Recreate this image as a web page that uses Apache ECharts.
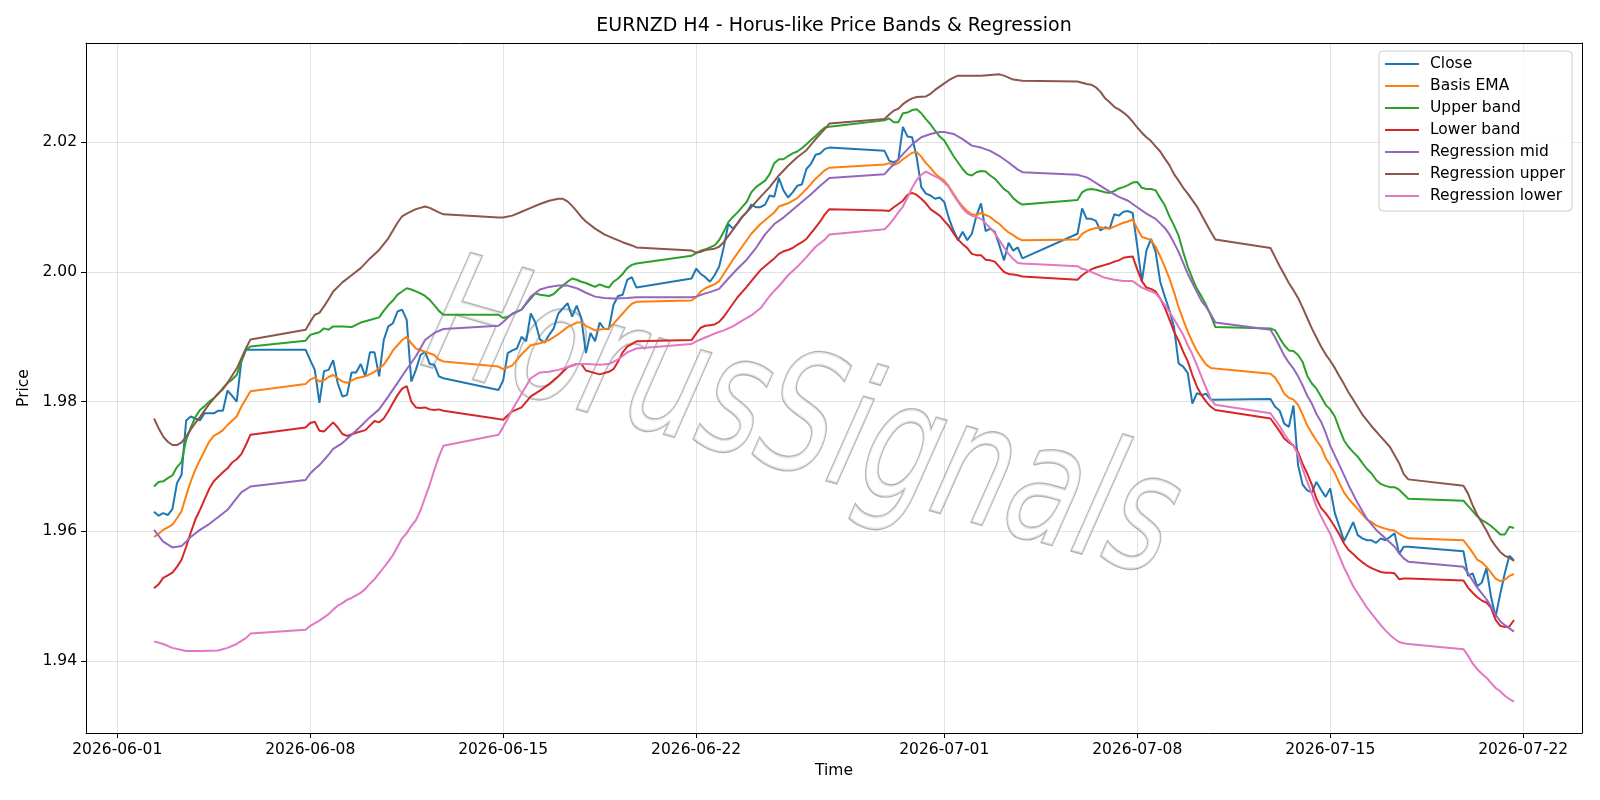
<!DOCTYPE html>
<html lang="en">
<head>
<meta charset="UTF-8">
<title>EURNZD H4</title>
<script src="https://cdn.jsdelivr.net/npm/echarts@6/dist/echarts.min.js"></script>
</head>
<body style="margin:0;background:#fff">
<div id="container" style="width:1600px;height:800px"></div>
<script type="text/javascript">
// times are 'MM-DD HH' in 2026 (UTC)
var YEAR = 2026;
var tickDates = ['2026-06-01', '2026-06-08', '2026-06-15', '2026-06-22', '2026-07-01', '2026-07-08', '2026-07-15', '2026-07-22'];
var priceTicks = [1.94, 1.96, 1.98, 2.00, 2.02];

var closeData = [
  ['06-02 08',1.9630],['06-02 12',1.9624],['06-02 16',1.9628],['06-02 20',1.9625],['06-03 00',1.9634],['06-03 04',1.9674],['06-03 08',1.9687],['06-03 12',1.9771],['06-03 16',1.9777],['06-03 20',1.9774],['06-04 00',1.9771],['06-04 04',1.9782],['06-04 08',1.9782],['06-04 12',1.9782],['06-04 16',1.9786],['06-04 20',1.9786],['06-05 00',1.9817],['06-05 04',1.9809],['06-05 08',1.9800],['06-05 12',1.9862],['06-05 16',1.9880],['06-05 20',1.9880],
  ['06-07 20',1.9880],['06-08 00',1.9864],['06-08 04',1.9849],['06-08 08',1.9798],['06-08 12',1.9847],['06-08 16',1.9849],['06-08 20',1.9864],['06-09 00',1.9828],['06-09 04',1.9808],['06-09 08',1.9810],['06-09 12',1.9845],['06-09 16',1.9845],['06-09 20',1.9858],['06-10 00',1.9839],['06-10 04',1.9876],['06-10 08',1.9876],['06-10 12',1.9839],['06-10 16',1.9895],['06-10 20',1.9916],['06-11 00',1.9921],['06-11 04',1.9939],['06-11 08',1.9942],['06-11 12',1.9926],['06-11 16',1.9831],['06-11 20',1.9849],['06-12 00',1.9872],['06-12 04',1.9877],['06-12 08',1.9858],['06-12 12',1.9857],['06-12 16',1.9839],['06-12 20',1.9836],
  ['06-14 20',1.9818],['06-15 00',1.9833],['06-15 04',1.9875],['06-15 08',1.9879],['06-15 12',1.9882],['06-15 16',1.9900],['06-15 20',1.9893],['06-16 00',1.9936],['06-16 04',1.9922],['06-16 08',1.9896],['06-16 12',1.9891],['06-16 16',1.9903],['06-16 20',1.9913],['06-17 00',1.9936],['06-17 04',1.9944],['06-17 08',1.9952],['06-17 12',1.9931],['06-17 16',1.9948],['06-17 20',1.9929],['06-18 00',1.9875],['06-18 04',1.9906],['06-18 08',1.9893],['06-18 12',1.9922],['06-18 16',1.9912],['06-18 20',1.9912],['06-19 00',1.9949],['06-19 04',1.9963],['06-19 08',1.9965],['06-19 12',1.9988],['06-19 16',1.9992],['06-19 20',1.9976],
  ['06-21 20',1.9990],['06-22 00',2.0005],['06-22 04',1.9997],['06-22 08',1.9992],['06-22 12',1.9985],['06-22 16',1.9995],['06-22 20',2.0008],['06-23 00',2.0038],['06-23 04',2.0074],['06-23 08',2.0067],['06-23 12',2.0075],['06-23 16',2.0085],['06-23 20',2.0092],['06-24 00',2.0104],['06-24 04',2.0100],['06-24 08',2.0100],['06-24 12',2.0104],['06-24 16',2.0118],['06-24 20',2.0116],['06-25 00',2.0145],['06-25 04',2.0126],['06-25 08',2.0115],['06-25 12',2.0123],['06-25 16',2.0133],['06-25 20',2.0135],['06-26 00',2.0159],['06-26 04',2.0167],['06-26 08',2.0181],['06-26 12',2.0183],['06-26 16',2.0190],['06-26 20',2.0192],
  ['06-28 20',2.0187],['06-29 00',2.0172],['06-29 04',2.0169],['06-29 08',2.0173],['06-29 12',2.0224],['06-29 16',2.0209],['06-29 20',2.0208],['06-30 00',2.0177],['06-30 04',2.0131],['06-30 08',2.0121],['06-30 12',2.0118],['06-30 16',2.0113],['06-30 20',2.0115],['07-01 00',2.0108],['07-01 04',2.0083],['07-01 08',2.0064],['07-01 12',2.0049],['07-01 16',2.0062],['07-01 20',2.0049],['07-02 00',2.0059],['07-02 04',2.0087],['07-02 08',2.0106],['07-02 12',2.0063],['07-02 16',2.0067],['07-02 20',2.0062],['07-03 00',2.0041],['07-03 04',2.0018],['07-03 08',2.0045],['07-03 12',2.0033],['07-03 16',2.0038],['07-03 20',2.0021],
  ['07-05 20',2.0059],['07-06 00',2.0098],['07-06 04',2.0082],['07-06 08',2.0082],['07-06 12',2.0079],['07-06 16',2.0064],['07-06 20',2.0069],['07-07 00',2.0067],['07-07 04',2.0089],['07-07 08',2.0087],['07-07 12',2.0093],['07-07 16',2.0094],['07-07 20',2.0091],['07-08 00',2.0040],['07-08 04',1.9985],['07-08 08',2.0033],['07-08 12',2.0051],['07-08 16',2.0031],['07-08 20',1.9985],['07-09 00',1.9962],['07-09 04',1.9941],['07-09 08',1.9915],['07-09 12',1.9859],['07-09 16',1.9854],['07-09 20',1.9844],['07-10 00',1.9797],['07-10 04',1.9813],['07-10 08',1.9810],['07-10 12',1.9812],['07-10 16',1.9803],['07-10 20',1.9803],
  ['07-12 20',1.9804],['07-13 00',1.9792],['07-13 04',1.9786],['07-13 08',1.9766],['07-13 12',1.9761],['07-13 16',1.9794],['07-13 20',1.9702],['07-14 00',1.9672],['07-14 04',1.9663],['07-14 08',1.9660],['07-14 12',1.9676],['07-14 16',1.9664],['07-14 20',1.9653],['07-15 00',1.9666],['07-15 04',1.9628],['07-15 08',1.9607],['07-15 12',1.9585],['07-15 16',1.9599],['07-15 20',1.9614],['07-16 00',1.9594],['07-16 04',1.9589],['07-16 08',1.9586],['07-16 12',1.9586],['07-16 16',1.9582],['07-16 20',1.9589],['07-17 00',1.9586],['07-17 04',1.9591],['07-17 08',1.9597],['07-17 12',1.9565],['07-17 16',1.9576],['07-17 20',1.9576],
  ['07-19 20',1.9569],['07-20 00',1.9531],['07-20 04',1.9535],['07-20 08',1.9515],['07-20 12',1.9521],['07-20 16',1.9543],['07-20 20',1.9499],['07-21 00',1.9468],['07-21 04',1.9503],['07-21 08',1.9535],['07-21 12',1.9562],['07-21 16',1.9555]
];

var emaData = [
  ['06-02 08',1.9591],['06-02 12',1.9596],['06-02 16',1.9602],['06-02 20',1.9606],['06-03 00',1.9610],['06-03 04',1.9620],['06-03 08',1.9631],['06-03 12',1.9655],['06-03 16',1.9677],['06-03 20',1.9695],['06-04 00',1.9710],['06-04 04',1.9724],['06-04 08',1.9738],['06-04 12',1.9747],['06-04 16',1.9751],['06-04 20',1.9756],['06-05 00',1.9764],['06-05 08',1.9777],['06-05 12',1.9792],['06-05 20',1.9816],
  ['06-07 20',1.9827],['06-08 00',1.9834],['06-08 04',1.9837],['06-08 08',1.9831],['06-08 12',1.9833],['06-08 16',1.9838],['06-08 20',1.9841],['06-09 04',1.9831],['06-09 08',1.9829],['06-09 16',1.9836],['06-10 00',1.9839],['06-10 08',1.9846],['06-10 16',1.9857],['06-10 20',1.9867],['06-11 00',1.9879],['06-11 04',1.9887],['06-11 08',1.9895],['06-11 12',1.9900],['06-11 16',1.9890],['06-11 20',1.9882],['06-12 04',1.9877],['06-12 12',1.9872],['06-12 16',1.9865],['06-12 20',1.9862],
  ['06-14 20',1.9854],['06-15 00',1.9850],['06-15 08',1.9856],['06-15 16',1.9873],['06-16 00',1.9887],['06-16 08',1.9890],['06-16 16',1.9895],['06-17 00',1.9904],['06-17 08',1.9915],['06-17 16',1.9922],['06-17 20',1.9922],['06-18 00',1.9917],['06-18 08',1.9910],['06-18 16',1.9912],['06-18 20',1.9913],['06-19 00',1.9920],['06-19 08',1.9936],['06-19 12',1.9944],['06-19 16',1.9951],['06-19 20',1.9954],
  ['06-21 20',1.9956],['06-22 00',1.9961],['06-22 04',1.9970],['06-22 08',1.9975],['06-22 12',1.9978],['06-22 16',1.9981],['06-22 20',1.9986],['06-23 00',1.9997],['06-23 08',2.0019],['06-23 16',2.0039],['06-24 00',2.0059],['06-24 08',2.0074],['06-24 16',2.0086],['06-24 20',2.0092],['06-25 00',2.0101],['06-25 08',2.0106],['06-25 16',2.0114],['06-26 00',2.0128],['06-26 08',2.0144],['06-26 16',2.0157],['06-26 20',2.0161],
  ['06-28 20',2.0166],['06-29 00',2.0168],['06-29 04',2.0165],['06-29 08',2.0168],['06-29 12',2.0174],['06-29 16',2.0179],['06-29 20',2.0184],['06-30 00',2.0185],['06-30 04',2.0178],['06-30 08',2.0168],['06-30 12',2.0161],['06-30 16',2.0152],['06-30 20',2.0146],['07-01 00',2.0141],['07-01 04',2.0132],['07-01 08',2.0121],['07-01 12',2.0110],['07-01 16',2.0101],['07-01 20',2.0094],['07-02 00',2.0089],['07-02 04',2.0088],['07-02 08',2.0091],['07-02 12',2.0088],['07-02 16',2.0085],['07-02 20',2.0079],['07-03 00',2.0074],['07-03 04',2.0067],['07-03 08',2.0061],['07-03 12',2.0057],['07-03 16',2.0052],['07-03 20',2.0049],
  ['07-05 20',2.0050],['07-06 00',2.0059],['07-06 04',2.0063],['07-06 08',2.0066],['07-06 12',2.0068],['07-06 16',2.0069],['07-06 20',2.0067],['07-07 00',2.0067],['07-07 04',2.0070],['07-07 08',2.0073],['07-07 12',2.0076],['07-07 16',2.0078],['07-07 20',2.0081],['07-08 00',2.0067],['07-08 04',2.0054],['07-08 08',2.0052],['07-08 12',2.0049],['07-08 16',2.0039],['07-08 20',2.0024],['07-09 00',2.0008],['07-09 04',1.9990],['07-09 08',1.9969],['07-09 12',1.9946],['07-09 16',1.9926],['07-09 20',1.9908],['07-10 00',1.9892],['07-10 04',1.9878],['07-10 08',1.9867],['07-10 12',1.9857],['07-10 16',1.9852],['07-10 20',1.9851],
  ['07-12 20',1.9843],['07-13 00',1.9837],['07-13 04',1.9826],['07-13 08',1.9812],['07-13 12',1.9806],['07-13 16',1.9803],['07-13 20',1.9795],['07-14 00',1.9780],['07-14 04',1.9763],['07-14 08',1.9751],['07-14 12',1.9740],['07-14 16',1.9730],['07-14 20',1.9713],['07-15 00',1.9702],['07-15 04',1.9690],['07-15 08',1.9674],['07-15 12',1.9660],['07-15 16',1.9650],['07-15 20',1.9642],['07-16 00',1.9634],['07-16 04',1.9626],['07-16 08',1.9618],['07-16 12',1.9614],['07-16 16',1.9609],['07-16 20',1.9606],['07-17 00',1.9604],['07-17 04',1.9602],['07-17 08',1.9601],['07-17 12',1.9596],['07-17 16',1.9592],['07-17 20',1.9589],
  ['07-19 20',1.9586],['07-20 00',1.9577],['07-20 04',1.9567],['07-20 08',1.9556],['07-20 12',1.9552],['07-20 16',1.9545],['07-20 20',1.9536],['07-21 00',1.9527],['07-21 04',1.9523],['07-21 08',1.9525],['07-21 12',1.9531],['07-21 16',1.9534]
];

var upperData = [
  ['06-02 08',1.9669],['06-02 12',1.9676],['06-02 16',1.9677],['06-02 20',1.9682],['06-03 00',1.9686],['06-03 04',1.9699],['06-03 08',1.9707],['06-03 12',1.9741],['06-03 16',1.9760],['06-03 20',1.9776],['06-04 00',1.9787],['06-04 04',1.9793],['06-04 08',1.9800],['06-04 12',1.9805],['06-04 16',1.9812],['06-04 20',1.9821],['06-05 00',1.9829],['06-05 04',1.9834],['06-05 08',1.9841],['06-05 12',1.9862],['06-05 16',1.9880],['06-05 20',1.9885],
  ['06-07 20',1.9894],['06-08 00',1.9903],['06-08 04',1.9905],['06-08 08',1.9907],['06-08 12',1.9913],['06-08 16',1.9911],['06-08 20',1.9916],['06-09 04',1.9916],['06-09 12',1.9915],['06-09 20',1.9922],['06-10 04',1.9926],['06-10 12',1.9930],['06-10 16',1.9940],['06-10 20',1.9949],['06-11 00',1.9956],['06-11 04',1.9965],['06-11 08',1.9970],['06-11 12',1.9975],['06-11 16',1.9973],['06-11 20',1.9970],['06-12 00',1.9967],['06-12 04',1.9963],['06-12 08',1.9957],['06-12 12',1.9949],['06-12 16',1.9940],['06-12 20',1.9934],
  ['06-14 20',1.9934],['06-15 00',1.9929],['06-15 04',1.9931],['06-15 08',1.9935],['06-15 16',1.9942],['06-15 20',1.9951],['06-16 00',1.9959],['06-16 04',1.9967],['06-16 08',1.9965],['06-16 16',1.9963],['06-16 20',1.9966],['06-17 00',1.9973],['06-17 04',1.9979],['06-17 08',1.9985],['06-17 12',1.9990],['06-17 16',1.9988],['06-17 20',1.9985],['06-18 00',1.9983],['06-18 04',1.9980],['06-18 08',1.9977],['06-18 12',1.9981],['06-18 16',1.9978],['06-18 20',1.9976],['06-19 00',1.9985],['06-19 04',1.9990],['06-19 08',1.9997],['06-19 12',2.0006],['06-19 16',2.0011],['06-19 20',2.0013],
  ['06-21 20',2.0025],['06-22 00',2.0029],['06-22 04',2.0033],['06-22 08',2.0035],['06-22 12',2.0038],['06-22 16',2.0041],['06-22 20',2.0049],['06-23 00',2.0062],['06-23 04',2.0077],['06-23 08',2.0085],['06-23 12',2.0092],['06-23 16',2.0100],['06-23 20',2.0108],['06-24 00',2.0123],['06-24 04',2.0131],['06-24 08',2.0136],['06-24 12',2.0141],['06-24 16',2.0151],['06-24 20',2.0168],['06-25 00',2.0174],['06-25 04',2.0174],['06-25 08',2.0179],['06-25 12',2.0183],['06-25 16',2.0186],['06-25 20',2.0191],['06-26 00',2.0197],['06-26 04',2.0204],['06-26 08',2.0210],['06-26 12',2.0217],['06-26 16',2.0223],['06-26 20',2.0224],
  ['06-28 20',2.0234],['06-29 00',2.0237],['06-29 04',2.0231],['06-29 08',2.0231],['06-29 12',2.0245],['06-29 16',2.0246],['06-29 20',2.0250],['06-30 00',2.0251],['06-30 04',2.0245],['06-30 08',2.0236],['06-30 12',2.0228],['06-30 16',2.0218],['06-30 20',2.0209],['07-01 00',2.0203],['07-01 04',2.0191],['07-01 08',2.0179],['07-01 12',2.0169],['07-01 16',2.0159],['07-01 20',2.0151],['07-02 00',2.0149],['07-02 04',2.0154],['07-02 08',2.0156],['07-02 12',2.0155],['07-02 16',2.0149],['07-02 20',2.0144],['07-03 00',2.0136],['07-03 04',2.0128],['07-03 08',2.0123],['07-03 12',2.0114],['07-03 16',2.0108],['07-03 20',2.0104],
  ['07-05 20',2.0111],['07-06 00',2.0123],['07-06 04',2.0127],['07-06 08',2.0128],['07-06 12',2.0127],['07-06 16',2.0125],['07-06 20',2.0123],['07-07 00',2.0122],['07-07 04',2.0125],['07-07 08',2.0129],['07-07 12',2.0131],['07-07 16',2.0134],['07-07 20',2.0138],['07-08 00',2.0139],['07-08 04',2.0130],['07-08 08',2.0128],['07-08 12',2.0128],['07-08 16',2.0126],['07-08 20',2.0114],['07-09 00',2.0103],['07-09 04',2.0086],['07-09 08',2.0072],['07-09 12',2.0056],['07-09 16',2.0031],['07-09 20',2.0008],['07-10 00',1.9990],['07-10 04',1.9974],['07-10 08',1.9962],['07-10 12',1.9949],['07-10 16',1.9933],['07-10 20',1.9915],
  ['07-12 20',1.9913],['07-13 00',1.9910],['07-13 04',1.9898],['07-13 08',1.9887],['07-13 12',1.9879],['07-13 16',1.9878],['07-13 20',1.9872],['07-14 00',1.9861],['07-14 04',1.9840],['07-14 08',1.9828],['07-14 12',1.9820],['07-14 16',1.9808],['07-14 20',1.9795],['07-15 00',1.9788],['07-15 04',1.9777],['07-15 08',1.9758],['07-15 12',1.9740],['07-15 16',1.9730],['07-15 20',1.9722],['07-16 00',1.9715],['07-16 04',1.9705],['07-16 08',1.9696],['07-16 12',1.9689],['07-16 16',1.9679],['07-16 20',1.9673],['07-17 00',1.9670],['07-17 04',1.9668],['07-17 08',1.9668],['07-17 12',1.9664],['07-17 16',1.9657],['07-17 20',1.9650],
  ['07-19 20',1.9647],['07-20 00',1.9639],['07-20 04',1.9631],['07-20 08',1.9623],['07-20 12',1.9617],['07-20 16',1.9613],['07-20 20',1.9608],['07-21 00',1.9602],['07-21 04',1.9595],['07-21 08',1.9595],['07-21 12',1.9607],['07-21 16',1.9605]
];

var lowerData = [
  ['06-02 08',1.9512],['06-02 12',1.9518],['06-02 16',1.9528],['06-02 20',1.9532],['06-03 00',1.9536],['06-03 04',1.9545],['06-03 08',1.9556],['06-03 12',1.9576],['06-03 16',1.9598],['06-03 20',1.9618],['06-04 00',1.9633],['06-04 04',1.9649],['06-04 08',1.9665],['06-04 12',1.9677],['06-04 16',1.9684],['06-04 20',1.9691],['06-05 00',1.9697],['06-05 04',1.9706],['06-05 08',1.9711],['06-05 12',1.9719],['06-05 16',1.9733],['06-05 20',1.9749],
  ['06-07 20',1.9760],['06-08 00',1.9767],['06-08 04',1.9769],['06-08 08',1.9755],['06-08 12',1.9754],['06-08 16',1.9761],['06-08 20',1.9768],['06-09 00',1.9760],['06-09 04',1.9750],['06-09 08',1.9747],['06-09 16',1.9752],['06-10 00',1.9756],['06-10 08',1.9770],['06-10 12',1.9768],['06-10 16',1.9774],['06-10 20',1.9785],['06-11 00',1.9798],['06-11 04',1.9810],['06-11 08',1.9820],['06-11 12',1.9824],['06-11 16',1.9800],['06-11 20',1.9791],['06-12 00',1.9790],['06-12 04',1.9791],['06-12 08',1.9788],['06-12 12',1.9787],['06-12 16',1.9788],['06-12 20',1.9786],
  ['06-14 20',1.9773],['06-15 00',1.9772],['06-15 04',1.9779],['06-15 08',1.9785],['06-15 16',1.9791],['06-16 00',1.9808],['06-16 08',1.9817],['06-16 16',1.9827],['06-17 00',1.9839],['06-17 08',1.9853],['06-17 16',1.9858],['06-17 20',1.9858],['06-18 00',1.9848],['06-18 08',1.9844],['06-18 12',1.9842],['06-18 20',1.9846],['06-19 00',1.9850],['06-19 04',1.9862],['06-19 08',1.9876],['06-19 12',1.9885],['06-19 20',1.9893],
  ['06-21 20',1.9895],['06-22 00',1.9905],['06-22 04',1.9914],['06-22 08',1.9917],['06-22 12',1.9918],['06-22 16',1.9919],['06-22 20',1.9923],['06-23 00',1.9931],['06-23 04',1.9941],['06-23 08',1.9951],['06-23 12',1.9961],['06-23 16',1.9969],['06-23 20',1.9977],['06-24 00',1.9986],['06-24 08',2.0003],['06-24 16',2.0015],['06-24 20',2.0021],['06-25 00',2.0028],['06-25 04',2.0032],['06-25 08',2.0034],['06-25 12',2.0037],['06-25 16',2.0042],['06-25 20',2.0046],['06-26 00',2.0051],['06-26 04',2.0060],['06-26 08',2.0069],['06-26 12',2.0078],['06-26 16',2.0089],['06-26 20',2.0097],
  ['06-28 20',2.0095],['06-29 00',2.0094],['06-29 04',2.0100],['06-29 08',2.0105],['06-29 12',2.0110],['06-29 16',2.0119],['06-29 20',2.0122],['06-30 00',2.0119],['06-30 04',2.0113],['06-30 08',2.0106],['06-30 12',2.0097],['06-30 16',2.0092],['06-30 20',2.0087],['07-01 00',2.0079],['07-01 04',2.0071],['07-01 08',2.0060],['07-01 12',2.0050],['07-01 16',2.0043],['07-01 20',2.0037],['07-02 00',2.0028],['07-02 04',2.0026],['07-02 08',2.0026],['07-02 12',2.0019],['07-02 16',2.0018],['07-02 20',2.0016],['07-03 00',2.0008],['07-03 04',2.0000],['07-03 08',1.9997],['07-03 12',1.9996],['07-03 16',1.9995],['07-03 20',1.9993],
  ['07-05 20',1.9988],['07-06 00',1.9995],['07-06 04',2.0000],['07-06 08',2.0004],['07-06 12',2.0007],['07-06 16',2.0009],['07-06 20',2.0011],['07-07 00',2.0013],['07-07 04',2.0016],['07-07 08',2.0018],['07-07 12',2.0022],['07-07 16',2.0023],['07-07 20',2.0024],['07-08 00',2.0004],['07-08 04',1.9986],['07-08 08',1.9976],['07-08 12',1.9974],['07-08 16',1.9970],['07-08 20',1.9959],['07-09 00',1.9945],['07-09 04',1.9927],['07-09 08',1.9908],['07-09 12',1.9894],['07-09 16',1.9877],['07-09 20',1.9862],['07-10 00',1.9841],['07-10 04',1.9823],['07-10 08',1.9810],['07-10 12',1.9800],['07-10 16',1.9792],['07-10 20',1.9787],
  ['07-12 20',1.9774],['07-13 00',1.9764],['07-13 04',1.9754],['07-13 08',1.9743],['07-13 12',1.9737],['07-13 16',1.9732],['07-13 20',1.9722],['07-14 00',1.9704],['07-14 04',1.9689],['07-14 08',1.9672],['07-14 12',1.9650],['07-14 16',1.9636],['07-14 20',1.9628],['07-15 00',1.9618],['07-15 04',1.9607],['07-15 08',1.9595],['07-15 12',1.9581],['07-15 16',1.9571],['07-15 20',1.9565],['07-16 00',1.9558],['07-16 04',1.9552],['07-16 08',1.9547],['07-16 12',1.9543],['07-16 16',1.9540],['07-16 20',1.9537],['07-17 00',1.9536],['07-17 04',1.9536],['07-17 08',1.9535],['07-17 12',1.9526],['07-17 16',1.9527],['07-17 20',1.9527],
  ['07-19 20',1.9524],['07-20 00',1.9513],['07-20 04',1.9505],['07-20 08',1.9498],['07-20 12',1.9493],['07-20 16',1.9490],['07-20 20',1.9482],['07-21 00',1.9463],['07-21 04',1.9454],['07-21 08',1.9452],['07-21 12',1.9453],['07-21 16',1.9463]
];

var regMidData = [
  ['06-02 08',1.9602],['06-02 16',1.9584],['06-03 00',1.9575],['06-03 08',1.9577],['06-03 16',1.9591],['06-04 00',1.9602],['06-04 08',1.9611],['06-04 16',1.9622],['06-05 00',1.9633],['06-05 08',1.9651],['06-05 12',1.9660],['06-05 20',1.9669],
  ['06-07 20',1.9679],['06-08 00',1.9689],['06-08 04',1.9696],['06-08 08',1.9702],['06-08 16',1.9718],['06-08 20',1.9727],['06-09 04',1.9736],['06-09 12',1.9749],['06-09 20',1.9762],['06-10 04',1.9776],['06-10 12',1.9788],['06-10 20',1.9808],['06-11 04',1.9829],['06-11 12',1.9850],['06-11 20',1.9870],['06-12 04',1.9895],['06-12 12',1.9906],['06-12 20',1.9912],
  ['06-14 20',1.9917],['06-15 00',1.9923],['06-15 08',1.9936],['06-15 16',1.9942],['06-16 00',1.9962],['06-16 08',1.9973],['06-16 16',1.9977],['06-17 00',1.9979],['06-17 08',1.9979],['06-17 16',1.9975],['06-18 00',1.9968],['06-18 08',1.9962],['06-18 16',1.9960],['06-19 00',1.9959],['06-19 12',1.9960],['06-19 20',1.9961],
  ['06-21 20',1.9961],['06-22 00',1.9962],['06-22 08',1.9967],['06-22 12',1.9969],['06-22 20',1.9974],['06-23 04',1.9990],['06-23 12',2.0005],['06-23 20',2.0019],['06-24 04',2.0037],['06-24 12',2.0058],['06-24 20',2.0074],['06-25 04',2.0084],['06-25 12',2.0096],['06-25 20',2.0108],['06-26 04',2.0120],['06-26 12',2.0133],['06-26 20',2.0145],
  ['06-28 20',2.0151],['06-29 00',2.0159],['06-29 04',2.0166],['06-29 12',2.0182],['06-29 20',2.0197],['06-30 04',2.0208],['06-30 12',2.0213],['06-30 20',2.0216],['07-01 00',2.0216],['07-01 08',2.0213],['07-01 16',2.0205],['07-02 00',2.0195],['07-02 08',2.0192],['07-02 16',2.0187],['07-03 00',2.0179],['07-03 08',2.0169],['07-03 16',2.0158],['07-03 20',2.0154],
  ['07-05 20',2.0150],['07-06 00',2.0148],['07-06 04',2.0146],['07-06 08',2.0142],['07-06 16',2.0133],['07-07 00',2.0124],['07-07 08',2.0116],['07-07 16',2.0110],['07-08 00',2.0100],['07-08 08',2.0090],['07-08 16',2.0082],['07-08 20',2.0075],['07-09 00',2.0068],['07-09 04',2.0058],['07-09 08',2.0045],['07-09 12',2.0031],['07-09 16',2.0014],['07-09 20',1.9997],['07-10 00',1.9983],['07-10 04',1.9969],['07-10 08',1.9955],['07-10 12',1.9946],['07-10 16',1.9935],['07-10 20',1.9922],
  ['07-12 20',1.9911],['07-13 00',1.9899],['07-13 04',1.9885],['07-13 08',1.9871],['07-13 12',1.9860],['07-13 16',1.9851],['07-13 20',1.9839],['07-14 00',1.9825],['07-14 04',1.9809],['07-14 08',1.9797],['07-14 12',1.9781],['07-14 16',1.9769],['07-14 20',1.9752],['07-15 00',1.9732],['07-15 08',1.9702],['07-15 16',1.9671],['07-16 00',1.9643],['07-16 08',1.9619],['07-16 16',1.9602],['07-17 00',1.9589],['07-17 08',1.9576],['07-17 12',1.9566],['07-17 16',1.9558],['07-17 20',1.9553],
  ['07-19 20',1.9545],['07-20 00',1.9535],['07-20 04',1.9524],['07-20 08',1.9513],['07-20 12',1.9504],['07-20 16',1.9495],['07-20 20',1.9484],['07-21 00',1.9471],['07-21 04',1.9461],['07-21 08',1.9455],['07-21 12',1.9450],['07-21 16',1.9445]
];

var regUpperData = [
  ['06-02 08',1.9774],['06-02 12',1.9759],['06-02 16',1.9746],['06-02 20',1.9738],['06-03 00',1.9733],['06-03 04',1.9733],['06-03 08',1.9737],['06-03 12',1.9746],['06-03 16',1.9757],['06-03 20',1.9767],['06-04 00',1.9776],['06-04 08',1.9796],['06-04 16',1.9813],['06-04 20',1.9819],['06-05 00',1.9829],['06-05 08',1.9851],['06-05 16',1.9882],['06-05 20',1.9896],
  ['06-07 20',1.9911],['06-08 00',1.9923],['06-08 04',1.9934],['06-08 08',1.9937],['06-08 12',1.9947],['06-08 16',1.9958],['06-08 20',1.9970],['06-09 04',1.9984],['06-09 12',1.9995],['06-09 20',2.0006],['06-10 04',2.0021],['06-10 12',2.0034],['06-10 20',2.0052],['06-11 04',2.0076],['06-11 08',2.0086],['06-11 12',2.0090],['06-11 20',2.0097],['06-12 04',2.0101],['06-12 08',2.0099],['06-12 16',2.0092],['06-12 20',2.0089],
  ['06-14 20',2.0084],['06-15 00',2.0084],['06-15 08',2.0087],['06-15 16',2.0093],['06-16 00',2.0099],['06-16 08',2.0105],['06-16 16',2.0110],['06-17 00',2.0113],['06-17 04',2.0113],['06-17 08',2.0109],['06-17 12',2.0102],['06-17 16',2.0094],['06-17 20',2.0085],['06-18 00',2.0078],['06-18 08',2.0067],['06-18 16',2.0058],['06-19 00',2.0052],['06-19 08',2.0046],['06-19 16',2.0041],['06-19 20',2.0038],
  ['06-21 20',2.0033],['06-22 00',2.0030],['06-22 04',2.0031],['06-22 08',2.0034],['06-22 16',2.0036],['06-22 20',2.0039],['06-23 00',2.0046],['06-23 08',2.0065],['06-23 16',2.0085],['06-24 00',2.0100],['06-24 08',2.0116],['06-24 16',2.0131],['06-25 00',2.0149],['06-25 08',2.0164],['06-25 16',2.0177],['06-26 00',2.0188],['06-26 08',2.0205],['06-26 16',2.0221],['06-26 20',2.0229],
  ['06-28 20',2.0236],['06-29 00',2.0243],['06-29 04',2.0249],['06-29 08',2.0252],['06-29 12',2.0259],['06-29 16',2.0264],['06-29 20',2.0268],['06-30 00',2.0270],['06-30 08',2.0271],['06-30 12',2.0275],['06-30 16',2.0281],['06-30 20',2.0286],['07-01 00',2.0291],['07-01 04',2.0296],['07-01 08',2.0300],['07-01 12',2.0303],['07-01 20',2.0303],['07-02 08',2.0303],['07-02 16',2.0304],['07-03 00',2.0305],['07-03 04',2.0303],['07-03 08',2.0300],['07-03 12',2.0297],['07-03 20',2.0295],
  ['07-05 20',2.0294],['07-06 00',2.0292],['07-06 04',2.0290],['07-06 08',2.0289],['07-06 12',2.0285],['07-06 16',2.0278],['07-06 20',2.0268],['07-07 00',2.0262],['07-07 04',2.0255],['07-07 08',2.0251],['07-07 12',2.0246],['07-07 16',2.0240],['07-07 20',2.0232],['07-08 00',2.0223],['07-08 04',2.0215],['07-08 08',2.0208],['07-08 12',2.0202],['07-08 16',2.0194],['07-08 20',2.0186],['07-09 00',2.0175],['07-09 04',2.0165],['07-09 08',2.0151],['07-09 12',2.0141],['07-09 16',2.0130],['07-09 20',2.0121],['07-10 00',2.0111],['07-10 04',2.0101],['07-10 08',2.0088],['07-10 12',2.0075],['07-10 16',2.0062],['07-10 20',2.0050],
  ['07-12 20',2.0037],['07-13 00',2.0023],['07-13 04',2.0009],['07-13 08',1.9996],['07-13 12',1.9983],['07-13 16',1.9972],['07-13 20',1.9960],['07-14 00',1.9945],['07-14 04',1.9929],['07-14 08',1.9913],['07-14 12',1.9899],['07-14 16',1.9885],['07-14 20',1.9873],['07-15 00',1.9863],['07-15 04',1.9852],['07-15 08',1.9839],['07-15 12',1.9827],['07-15 16',1.9814],['07-15 20',1.9803],['07-16 04',1.9780],['07-16 12',1.9762],['07-16 20',1.9746],['07-17 04',1.9730],['07-17 12',1.9705],['07-17 16',1.9688],['07-17 20',1.9680],
  ['07-19 20',1.9670],['07-20 00',1.9658],['07-20 04',1.9640],['07-20 08',1.9625],['07-20 12',1.9613],['07-20 16',1.9601],['07-20 20',1.9587],['07-21 00',1.9577],['07-21 04',1.9568],['07-21 08',1.9562],['07-21 12',1.9559],['07-21 16',1.9554]
];

var regLowerData = [
  ['06-02 08',1.9430],['06-02 16',1.9426],['06-03 00',1.9420],['06-03 12',1.9415],['06-04 00',1.9415],['06-04 16',1.9416],['06-05 00',1.9420],['06-05 08',1.9426],['06-05 16',1.9435],['06-05 20',1.9442],
  ['06-07 20',1.9448],['06-08 00',1.9454],['06-08 08',1.9462],['06-08 12',1.9467],['06-08 16',1.9472],['06-08 20',1.9479],['06-09 00',1.9485],['06-09 04',1.9489],['06-09 08',1.9494],['06-09 12',1.9497],['06-09 16',1.9501],['06-09 20',1.9505],['06-10 00',1.9511],['06-10 04',1.9519],['06-10 08',1.9526],['06-10 12',1.9535],['06-10 16',1.9544],['06-10 20',1.9553],['06-11 00',1.9563],['06-11 04',1.9576],['06-11 08',1.9589],['06-11 12',1.9597],['06-11 16',1.9608],['06-11 20',1.9617],['06-12 00',1.9632],['06-12 04',1.9652],['06-12 08',1.9672],['06-12 12',1.9694],['06-12 16',1.9715],['06-12 20',1.9732],
  ['06-14 20',1.9749],['06-15 00',1.9761],['06-15 04',1.9774],['06-15 08',1.9788],['06-15 16',1.9812],['06-15 20',1.9824],['06-16 00',1.9836],['06-16 08',1.9845],['06-16 16',1.9846],['06-17 00',1.9849],['06-17 08',1.9853],['06-17 16',1.9858],['06-18 00',1.9858],['06-18 12',1.9857],['06-18 20',1.9858],['06-19 04',1.9865],['06-19 12',1.9876],['06-19 20',1.9882],
  ['06-21 20',1.9889],['06-22 00',1.9893],['06-22 08',1.9899],['06-22 16',1.9905],['06-23 00',1.9910],['06-23 08',1.9916],['06-23 16',1.9925],['06-24 00',1.9933],['06-24 08',1.9944],['06-24 16',1.9963],['06-24 20',1.9971],['06-25 00',1.9978],['06-25 08',1.9995],['06-25 16',2.0008],['06-26 00',2.0023],['06-26 08',2.0039],['06-26 16',2.0050],['06-26 20',2.0058],
  ['06-28 20',2.0066],['06-29 00',2.0073],['06-29 04',2.0082],['06-29 08',2.0092],['06-29 12',2.0101],['06-29 16',2.0115],['06-29 20',2.0130],['06-30 00',2.0142],['06-30 04',2.0150],['06-30 08',2.0155],['06-30 12',2.0151],['06-30 20',2.0144],['07-01 00',2.0138],['07-01 04',2.0131],['07-01 08',2.0119],['07-01 12',2.0108],['07-01 16',2.0098],['07-01 20',2.0091],['07-02 00',2.0087],['07-02 08',2.0082],['07-02 12',2.0075],['07-02 16',2.0068],['07-02 20',2.0060],['07-03 00',2.0049],['07-03 04',2.0038],['07-03 08',2.0028],['07-03 12',2.0020],['07-03 16',2.0014],['07-03 20',2.0013],
  ['07-05 20',2.0009],['07-06 00',2.0005],['07-06 04',2.0003],['07-06 12',1.9997],['07-06 20',1.9991],['07-07 04',1.9988],['07-07 12',1.9986],['07-07 20',1.9986],['07-08 00',1.9981],['07-08 04',1.9976],['07-08 08',1.9973],['07-08 12',1.9970],['07-08 16',1.9967],['07-08 20',1.9959],['07-09 00',1.9949],['07-09 04',1.9939],['07-09 08',1.9927],['07-09 12',1.9915],['07-09 16',1.9903],['07-09 20',1.9887],['07-10 00',1.9873],['07-10 04',1.9856],['07-10 08',1.9838],['07-10 12',1.9821],['07-10 16',1.9804],['07-10 20',1.9795],
  ['07-12 20',1.9782],['07-13 00',1.9772],['07-13 04',1.9762],['07-13 08',1.9750],['07-13 12',1.9740],['07-13 16',1.9732],['07-13 20',1.9718],['07-14 00',1.9696],['07-14 04',1.9676],['07-14 08',1.9658],['07-14 12',1.9638],['07-14 16',1.9623],['07-14 20',1.9609],['07-15 00',1.9596],['07-15 04',1.9578],['07-15 08',1.9561],['07-15 12',1.9544],['07-15 16',1.9530],['07-15 20',1.9515],['07-16 00',1.9504],['07-16 04',1.9493],['07-16 08',1.9482],['07-16 12',1.9473],['07-16 16',1.9464],['07-16 20',1.9455],['07-17 00',1.9447],['07-17 04',1.9440],['07-17 08',1.9434],['07-17 12',1.9429],['07-17 16',1.9427],['07-17 20',1.9426],
  ['07-19 20',1.9418],['07-20 00',1.9408],['07-20 04',1.9396],['07-20 08',1.9387],['07-20 12',1.9380],['07-20 16',1.9374],['07-20 20',1.9366],['07-21 00',1.9358],['07-21 04',1.9353],['07-21 08',1.9346],['07-21 12',1.9341],['07-21 16',1.9337]
];

var seriesNames = ['Close', 'Basis EMA', 'Upper band', 'Lower band', 'Regression mid', 'Regression upper', 'Regression lower'];
var seriesColors = ['#1f77b4', '#ff7f0e', '#2ca02c', '#d62728', '#9467bd', '#8c564b', '#e377c2'];
var seriesData = [closeData, emaData, upperData, lowerData, regMidData, regUpperData, regLowerData];

function ts(s) {
    return Date.UTC(YEAR, +s.slice(0, 2) - 1, +s.slice(3, 5), +s.slice(6, 8));
}
function pad2(n) { return n < 10 ? '0' + n : '' + n; }
function fmtDate(v) {
    var d = new Date(v);
    return d.getUTCFullYear() + '-' + pad2(d.getUTCMonth() + 1) + '-' + pad2(d.getUTCDate());
}

var converted = seriesData.map(function (arr) {
    return arr.map(function (p) { return [ts(p[0]), p[1]]; });
});

// matplotlib-like 5% margins around the data
var allT = [], allV = [];
converted.forEach(function (arr) {
    arr.forEach(function (p) { allT.push(p[0]); allV.push(p[1]); });
});
var tMin = Math.min.apply(null, allT), tMax = Math.max.apply(null, allT);
var vMin = Math.min.apply(null, allV), vMax = Math.max.apply(null, allV);
var tPad = (tMax - tMin) * 0.05, vPad = (vMax - vMin) * 0.05;
var xMin = tMin - tPad, xMax = tMax + tPad, yMin = vMin - vPad, yMax = vMax + vPad;

var tickTimes = tickDates.map(function (s) { return Date.parse(s + 'T00:00:00Z'); });

var FONT = '"DejaVu Sans", "Liberation Sans", sans-serif';
var gridLine = { show: true, lineStyle: { color: 'rgba(176,176,176,0.35)', width: 1 } };

var dom = document.getElementById('container');
var myChart = echarts.init(dom, null, { renderer: 'canvas' });

var series = converted.map(function (arr, i) {
    return {
        name: seriesNames[i],
        type: 'line',
        data: arr,
        showSymbol: false,
        symbol: 'none',
        lineStyle: { color: seriesColors[i], width: 2 },
        itemStyle: { color: seriesColors[i] },
        emphasis: { disabled: true },
        z: 3 + i
    };
});

var option = {
    animation: false,
    backgroundColor: '#ffffff',
    textStyle: { fontFamily: FONT },
    title: {
        text: 'EURNZD H4 - Horus-like Price Bands & Regression',
        left: 834,
        top: 17,
        textAlign: 'center',
        padding: 0,
        textStyle: { fontSize: 19, fontWeight: 'normal', color: '#000', fontFamily: FONT }
    },
    grid: { left: 86, right: 18, top: 43, bottom: 67, containLabel: false },
    legend: {
        orient: 'vertical',
        left: 1379,
        top: 51,
        data: seriesNames,
        icon: 'rect',
        itemWidth: 34,
        itemHeight: 2,
        itemGap: 6,
        padding: [5, 7, 7, 6],
        backgroundColor: 'rgba(255,255,255,0.85)',
        borderColor: '#cccccc',
        borderWidth: 1,
        borderRadius: 4,
        textStyle: { fontSize: 15.5, color: '#000', fontFamily: FONT, lineHeight: 16, padding: [0, 0, 0, 6] }
    },
    xAxis: [{
        type: 'value',
        min: xMin,
        max: xMax,
        name: 'Time',
        nameLocation: 'middle',
        nameGap: 30,
        nameTextStyle: { fontSize: 15.5, color: '#000', fontFamily: FONT },
        axisLine: { show: true, onZero: false, lineStyle: { color: '#000', width: 1 } },
        axisTick: { show: true, length: 5, customValues: tickTimes, lineStyle: { color: '#000' } },
        axisLabel: { customValues: tickTimes, formatter: fmtDate, fontSize: 15.5, color: '#000', margin: 9, fontFamily: FONT },
        splitLine: gridLine
    }, {
        type: 'value',
        position: 'top',
        min: xMin,
        max: xMax,
        axisLine: { show: true, onZero: false, lineStyle: { color: '#000', width: 1 } },
        axisTick: { show: false },
        axisLabel: { show: false },
        splitLine: { show: false }
    }],
    yAxis: [{
        type: 'value',
        min: yMin,
        max: yMax,
        name: 'Price',
        nameLocation: 'middle',
        nameGap: 50,
        nameTextStyle: { fontSize: 15.5, color: '#000', fontFamily: FONT },
        axisLine: { show: true, onZero: false, lineStyle: { color: '#000', width: 1 } },
        axisTick: { show: true, length: 5, customValues: priceTicks, lineStyle: { color: '#000' } },
        axisLabel: {
            customValues: priceTicks,
            formatter: function (v) { return v.toFixed(2); },
            fontSize: 15.5, color: '#000', margin: 9, fontFamily: FONT
        },
        splitLine: gridLine
    }, {
        type: 'value',
        position: 'right',
        min: yMin,
        max: yMax,
        axisLine: { show: true, onZero: false, lineStyle: { color: '#000', width: 1 } },
        axisTick: { show: false },
        axisLabel: { show: false },
        splitLine: { show: false }
    }],
    graphic: [{
        type: 'text',
        x: 800,
        y: 428,
        rotation: -16 * Math.PI / 180,
        scaleY: 1.4,
        z: 1,
        silent: true,
        style: {
            text: 'HorusSignals',
            fontSize: 118,
            fontStyle: 'italic',
            fontFamily: FONT,
            fill: 'rgba(255,255,255,0.65)',
            stroke: 'rgba(100,100,100,0.5)',
            lineWidth: 2,
            align: 'center',
            verticalAlign: 'middle',
            shadowColor: 'rgba(0,0,0,0.28)',
            shadowBlur: 4,
            shadowOffsetX: 4,
            shadowOffsetY: 4
        }
    }],
    series: series
};

myChart.setOption(option);
</script>
</body>
</html>
